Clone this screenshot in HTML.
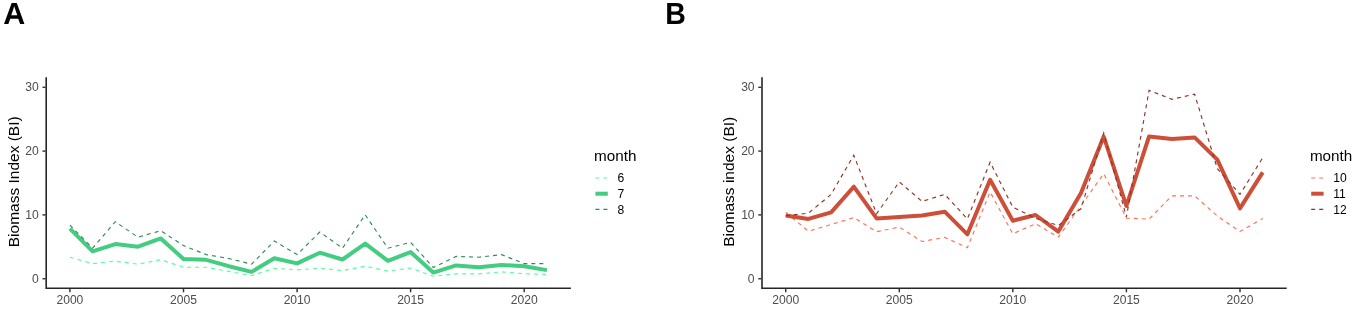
<!DOCTYPE html>
<html><head><meta charset="utf-8"><title>Biomass Index</title>
<style>
html,body{margin:0;padding:0;background:#fff;}
body{width:1358px;height:311px;overflow:hidden;}
svg{display:block;will-change:transform;font-family:"Liberation Sans",sans-serif;}
.tk{font-size:12.1px;fill:#4d4d4d;}
.lg{font-size:12.1px;fill:#000;}
.ti{font-size:15.25px;fill:#000;}
.yt{font-size:15.5px;}
.tag{font-size:30.3px;text-rendering:geometricPrecision;font-weight:bold;fill:#000;}
</style></head><body>
<svg width="1358" height="311" viewBox="0 0 1358 311">
<rect width="1358" height="311" fill="#fff"/>
<text transform="translate(3.35 24.2) scale(1.005 1.01)" class="tag">A</text>
<text transform="translate(665.3 24.2) scale(0.94 1.01)" class="tag">B</text>
<polyline points="69.9,257.2 92.6,263.6 115.3,261.1 138.0,264.2 160.8,259.8 183.5,267.2 206.2,267.2 228.9,271.4 251.6,275.7 274.3,268.3 297.1,269.8 319.8,268.2 342.5,270.6 365.2,266.2 387.9,271.1 410.6,268.0 433.3,276.2 456.1,273.9 478.8,273.9 501.5,271.9 524.2,273.7 546.9,274.4" fill="none" stroke="#54FF9F" stroke-width="1.15" stroke-dasharray="4 4"/>
<polyline points="69.9,228.7 92.6,251.3 115.3,244.1 138.0,246.7 160.8,238.4 183.5,259.0 206.2,259.8 228.9,266.2 251.6,271.9 274.3,258.2 297.1,263.4 319.8,252.7 342.5,259.5 365.2,243.6 387.9,260.8 410.6,252.1 433.3,272.6 456.1,265.4 478.8,267.2 501.5,264.9 524.2,266.2 546.9,270.1" fill="none" stroke="#43CD80" stroke-width="4" stroke-linejoin="round"/>
<polyline points="69.9,225.1 92.6,248.2 115.3,221.7 138.0,237.2 160.8,230.7 183.5,245.6 206.2,254.6 228.9,258.5 251.6,264.2 274.3,241.0 297.1,254.6 319.8,232.0 342.5,248.2 365.2,214.8 387.9,248.2 410.6,242.3 433.3,267.5 456.1,256.4 478.8,257.2 501.5,254.6 524.2,263.6 546.9,263.6" fill="none" stroke="#2E8B57" stroke-width="1.15" stroke-dasharray="4 4"/>
<path d="M46.2 77.3 V288.2 H570.9" fill="none" stroke="#262626" stroke-width="1.6" stroke-linejoin="miter"/>
<line x1="42.5" x2="45.5" y1="278.7" y2="278.7" stroke="#333" stroke-width="1.45"/>
<text x="38.8" y="282.6" text-anchor="end" class="tk">0</text>
<line x1="42.5" x2="45.5" y1="214.9" y2="214.9" stroke="#333" stroke-width="1.45"/>
<text x="38.8" y="218.8" text-anchor="end" class="tk">10</text>
<line x1="42.5" x2="45.5" y1="151.1" y2="151.1" stroke="#333" stroke-width="1.45"/>
<text x="38.8" y="155.0" text-anchor="end" class="tk">20</text>
<line x1="42.5" x2="45.5" y1="87.3" y2="87.3" stroke="#333" stroke-width="1.45"/>
<text x="38.8" y="91.2" text-anchor="end" class="tk">30</text>
<line x1="69.9" x2="69.9" y1="288.9" y2="292.3" stroke="#333" stroke-width="1.45"/>
<text x="69.9" y="304.2" text-anchor="middle" class="tk">2000</text>
<line x1="183.5" x2="183.5" y1="288.9" y2="292.3" stroke="#333" stroke-width="1.45"/>
<text x="183.5" y="304.2" text-anchor="middle" class="tk">2005</text>
<line x1="297.1" x2="297.1" y1="288.9" y2="292.3" stroke="#333" stroke-width="1.45"/>
<text x="297.1" y="304.2" text-anchor="middle" class="tk">2010</text>
<line x1="410.6" x2="410.6" y1="288.9" y2="292.3" stroke="#333" stroke-width="1.45"/>
<text x="410.6" y="304.2" text-anchor="middle" class="tk">2015</text>
<line x1="524.2" x2="524.2" y1="288.9" y2="292.3" stroke="#333" stroke-width="1.45"/>
<text x="524.2" y="304.2" text-anchor="middle" class="tk">2020</text>
<text transform="translate(18.5 181.8) rotate(-90)" text-anchor="middle" class="ti yt">Biomass Index (BI)</text>
<text x="594.1" y="160.6" class="ti">month</text>
<line x1="595.4" x2="607.8" y1="178.0" y2="178.0" stroke="#54FF9F" stroke-width="1.15" stroke-dasharray="4 4"/>
<text x="617.5" y="182.2" class="lg">6</text>
<line x1="595.4" x2="607.8" y1="193.7" y2="193.7" stroke="#43CD80" stroke-width="4"/>
<text x="617.5" y="197.8" class="lg">7</text>
<line x1="595.4" x2="607.8" y1="209.3" y2="209.3" stroke="#2E8B57" stroke-width="1.15" stroke-dasharray="4 4"/>
<text x="617.5" y="213.5" class="lg">8</text>
<polyline points="785.7,212.4 808.4,231.2 831.1,224.5 853.8,217.6 876.6,231.7 899.3,227.1 922.0,241.5 944.7,237.4 967.4,247.7 990.1,192.0 1012.8,233.8 1035.6,223.7 1058.3,237.1 1081.0,205.7 1103.7,173.7 1126.4,218.1 1149.1,219.1 1171.9,195.8 1194.6,195.8 1217.3,216.0 1240.0,231.4 1262.7,218.6" fill="none" stroke="#FF7256" stroke-width="1.15" stroke-dasharray="4 4"/>
<polyline points="785.7,215.5 808.4,218.9 831.1,212.4 853.8,186.7 876.6,218.4 899.3,217.1 922.0,215.5 944.7,211.7 967.4,234.3 990.1,179.8 1012.8,220.7 1035.6,215.0 1058.3,231.6 1081.0,192.9 1103.7,136.5 1126.4,206.0 1149.1,136.4 1171.9,139.0 1194.6,137.4 1217.3,159.6 1240.0,208.4 1262.7,172.4" fill="none" stroke="#CD4F39" stroke-width="4" stroke-linejoin="round"/>
<polyline points="785.7,215.8 808.4,213.2 831.1,194.4 853.8,155.2 876.6,213.7 899.3,181.9 922.0,201.4 944.7,194.4 967.4,218.9 990.1,162.2 1012.8,207.2 1035.6,218.3 1058.3,225.5 1081.0,208.8 1103.7,133.0 1126.4,217.0 1149.1,90.3 1171.9,99.3 1194.6,94.1 1217.3,168.6 1240.0,194.3 1262.7,157.8" fill="none" stroke="#8B3626" stroke-width="1.15" stroke-dasharray="4 4"/>
<path d="M762.0 77.3 V288.2 H1286.7" fill="none" stroke="#262626" stroke-width="1.6" stroke-linejoin="miter"/>
<line x1="758.3" x2="761.3" y1="278.7" y2="278.7" stroke="#333" stroke-width="1.45"/>
<text x="754.6" y="282.6" text-anchor="end" class="tk">0</text>
<line x1="758.3" x2="761.3" y1="214.9" y2="214.9" stroke="#333" stroke-width="1.45"/>
<text x="754.6" y="218.8" text-anchor="end" class="tk">10</text>
<line x1="758.3" x2="761.3" y1="151.1" y2="151.1" stroke="#333" stroke-width="1.45"/>
<text x="754.6" y="155.0" text-anchor="end" class="tk">20</text>
<line x1="758.3" x2="761.3" y1="87.3" y2="87.3" stroke="#333" stroke-width="1.45"/>
<text x="754.6" y="91.2" text-anchor="end" class="tk">30</text>
<line x1="785.7" x2="785.7" y1="288.9" y2="292.3" stroke="#333" stroke-width="1.45"/>
<text x="785.7" y="304.2" text-anchor="middle" class="tk">2000</text>
<line x1="899.3" x2="899.3" y1="288.9" y2="292.3" stroke="#333" stroke-width="1.45"/>
<text x="899.3" y="304.2" text-anchor="middle" class="tk">2005</text>
<line x1="1012.8" x2="1012.8" y1="288.9" y2="292.3" stroke="#333" stroke-width="1.45"/>
<text x="1012.8" y="304.2" text-anchor="middle" class="tk">2010</text>
<line x1="1126.4" x2="1126.4" y1="288.9" y2="292.3" stroke="#333" stroke-width="1.45"/>
<text x="1126.4" y="304.2" text-anchor="middle" class="tk">2015</text>
<line x1="1240.0" x2="1240.0" y1="288.9" y2="292.3" stroke="#333" stroke-width="1.45"/>
<text x="1240.0" y="304.2" text-anchor="middle" class="tk">2020</text>
<text transform="translate(734.3 181.8) rotate(-90)" text-anchor="middle" class="ti yt">Biomass index (BI)</text>
<text x="1309.9" y="160.6" class="ti">month</text>
<line x1="1311.2" x2="1323.6" y1="178.0" y2="178.0" stroke="#FF7256" stroke-width="1.15" stroke-dasharray="4 4"/>
<text x="1333.3" y="182.2" class="lg">10</text>
<line x1="1311.2" x2="1323.6" y1="193.7" y2="193.7" stroke="#CD4F39" stroke-width="4"/>
<text x="1333.3" y="197.8" class="lg">11</text>
<line x1="1311.2" x2="1323.6" y1="209.3" y2="209.3" stroke="#8B3626" stroke-width="1.15" stroke-dasharray="4 4"/>
<text x="1333.3" y="213.5" class="lg">12</text>
</svg>
</body></html>
